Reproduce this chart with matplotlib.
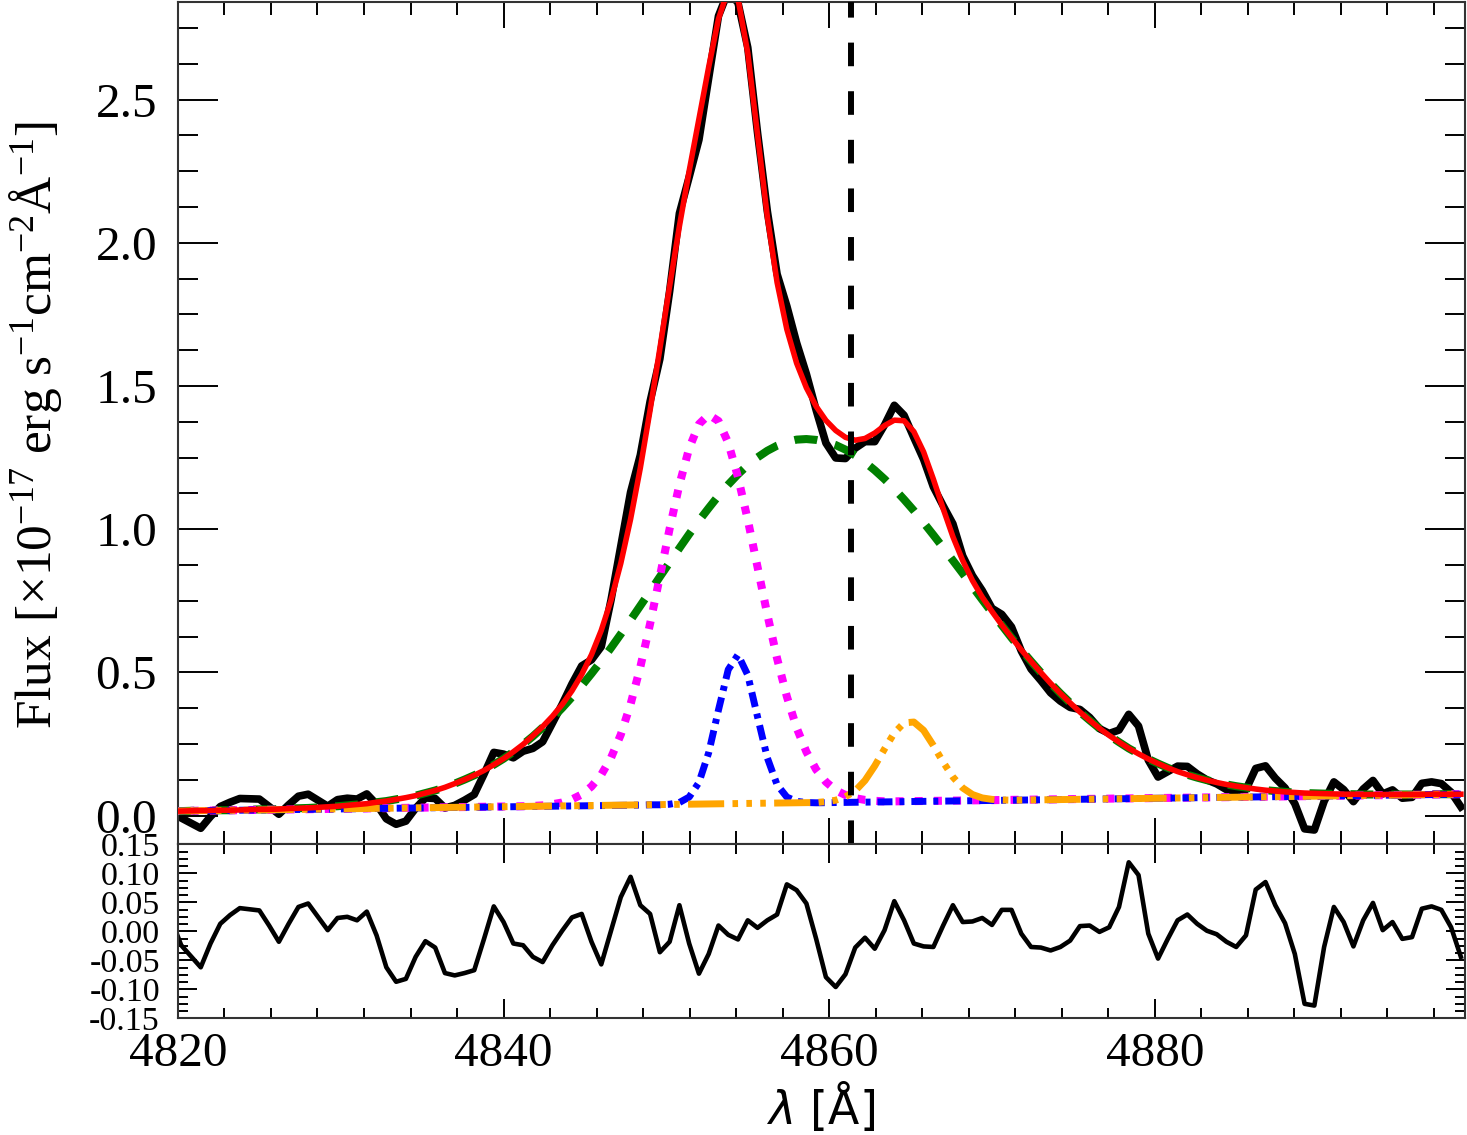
import matplotlib
matplotlib.use("Agg")
import matplotlib.pyplot as plt
from matplotlib.ticker import MultipleLocator, AutoMinorLocator, FormatStrFormatter

plt.rcParams['font.family'] = ['Liberation Serif', 'DejaVu Serif']
plt.rcParams['mathtext.fontset'] = 'custom'
plt.rcParams['mathtext.rm'] = 'Liberation Serif'
plt.rcParams['mathtext.it'] = 'Liberation Serif:italic'
plt.rcParams['axes.unicode_minus'] = False
plt.rcParams['lines.scale_dashes'] = False

# wavelength grid of the spectrum [A]
wave = [4819.6, 4820.2, 4820.8, 4821.4, 4822.0,
        4822.6, 4823.2, 4823.8, 4824.4, 4825.0,
        4825.6, 4826.2, 4826.8, 4827.4, 4828.0,
        4828.6, 4829.2, 4829.8, 4830.4, 4831.0,
        4831.6, 4832.2, 4832.8, 4833.4, 4834.0,
        4834.6, 4835.2, 4835.8, 4836.4, 4837.0,
        4837.6, 4838.2, 4838.8, 4839.4, 4840.0,
        4840.6, 4841.2, 4841.8, 4842.4, 4843.0,
        4843.6, 4844.2, 4844.8, 4845.4, 4846.0,
        4846.6, 4847.2, 4847.8, 4848.4, 4849.0,
        4849.6, 4850.2, 4850.8, 4851.4, 4852.0,
        4852.6, 4853.2, 4853.8, 4854.4, 4855.0,
        4855.6, 4856.2, 4856.8, 4857.4, 4858.0,
        4858.6, 4859.2, 4859.8, 4860.4, 4861.0,
        4861.6, 4862.2, 4862.8, 4863.4, 4864.0,
        4864.6, 4865.2, 4865.8, 4866.4, 4867.0,
        4867.6, 4868.2, 4868.8, 4869.4, 4870.0,
        4870.6, 4871.2, 4871.8, 4872.4, 4873.0,
        4873.6, 4874.2, 4874.8, 4875.4, 4876.0,
        4876.6, 4877.2, 4877.8, 4878.4, 4879.0,
        4879.6, 4880.2, 4880.8, 4881.4, 4882.0,
        4882.6, 4883.2, 4883.8, 4884.4, 4885.0,
        4885.6, 4886.2, 4886.8, 4887.4, 4888.0,
        4888.6, 4889.2, 4889.8, 4890.4, 4891.0,
        4891.6, 4892.2, 4892.8, 4893.4, 4894.0,
        4894.6, 4895.2, 4895.8, 4896.4, 4897.0,
        4897.6, 4898.2, 4898.8]

# observed flux
flux = [0.036, -0.008, -0.026, -0.044, -0.003,
        0.032, 0.047, 0.060, 0.059, 0.058,
        0.032, 0.005, 0.038, 0.068, 0.075,
        0.054, 0.033, 0.056, 0.061, 0.058,
        0.076, 0.040, -0.011, -0.030, -0.019,
        0.026, 0.062, 0.060, 0.027, 0.036,
        0.054, 0.074, 0.145, 0.221, 0.215,
        0.202, 0.225, 0.235, 0.258, 0.323,
        0.389, 0.460, 0.523, 0.544, 0.590,
        0.753, 0.940, 1.129, 1.259, 1.446,
        1.595, 1.831, 2.103, 2.230, 2.360,
        2.575, 2.792, 2.879, 2.838, 2.682,
        2.384, 2.111, 1.891, 1.779, 1.651,
        1.542, 1.416, 1.301, 1.249, 1.247,
        1.283, 1.306, 1.306, 1.364, 1.433,
        1.398, 1.320, 1.244, 1.148, 1.082,
        1.019, 0.907, 0.838, 0.786, 0.724,
        0.703, 0.659, 0.575, 0.512, 0.472,
        0.429, 0.400, 0.378, 0.371, 0.343,
        0.304, 0.287, 0.299, 0.354, 0.313,
        0.194, 0.135, 0.154, 0.173, 0.172,
        0.146, 0.125, 0.111, 0.091, 0.076,
        0.091, 0.165, 0.174, 0.131, 0.097,
        0.042, -0.046, -0.050, 0.050, 0.118,
        0.091, 0.049, 0.093, 0.123, 0.076,
        0.090, 0.061, 0.064, 0.113, 0.118,
        0.112, 0.082, 0.031]

# total model
fit = [0.016, 0.016, 0.017, 0.018, 0.018,
       0.019, 0.019, 0.020, 0.021, 0.022,
       0.022, 0.023, 0.025, 0.026, 0.027,
       0.029, 0.031, 0.033, 0.036, 0.039,
       0.042, 0.047, 0.051, 0.057, 0.063,
       0.070, 0.079, 0.088, 0.099, 0.112,
       0.126, 0.141, 0.158, 0.178, 0.199,
       0.223, 0.249, 0.279, 0.311, 0.347,
       0.388, 0.436, 0.493, 0.562, 0.647,
       0.752, 0.881, 1.035, 1.214, 1.416,
       1.631, 1.849, 2.058, 2.251, 2.433,
       2.614, 2.782, 2.885, 2.852, 2.663,
       2.378, 2.092, 1.862, 1.698, 1.580,
       1.494, 1.429, 1.380, 1.345, 1.321,
       1.311, 1.317, 1.336, 1.362, 1.381,
       1.379, 1.341, 1.270, 1.175, 1.072,
       0.974, 0.891, 0.821, 0.763, 0.713,
       0.666, 0.622, 0.579, 0.539, 0.500,
       0.462, 0.427, 0.394, 0.362, 0.333,
       0.305, 0.280, 0.257, 0.235, 0.216,
       0.198, 0.182, 0.167, 0.154, 0.143,
       0.133, 0.124, 0.116, 0.109, 0.103,
       0.098, 0.093, 0.089, 0.086, 0.083,
       0.081, 0.079, 0.078, 0.077, 0.076,
       0.075, 0.075, 0.074, 0.074, 0.074,
       0.074, 0.074, 0.074, 0.074, 0.075,
       0.075, 0.075, 0.075]

# broad component (green)
broad = [0.016, 0.016, 0.017, 0.018, 0.018,
         0.019, 0.019, 0.020, 0.021, 0.022,
         0.022, 0.023, 0.025, 0.026, 0.027,
         0.029, 0.031, 0.033, 0.036, 0.039,
         0.042, 0.047, 0.051, 0.057, 0.063,
         0.070, 0.079, 0.088, 0.099, 0.112,
         0.126, 0.141, 0.158, 0.178, 0.199,
         0.223, 0.249, 0.277, 0.308, 0.341,
         0.376, 0.414, 0.454, 0.496, 0.540,
         0.586, 0.634, 0.683, 0.733, 0.783,
         0.834, 0.884, 0.934, 0.983, 1.030,
         1.074, 1.117, 1.156, 1.192, 1.224,
         1.251, 1.274, 1.292, 1.305, 1.313,
         1.315, 1.312, 1.305, 1.294, 1.278,
         1.258, 1.234, 1.206, 1.175, 1.141,
         1.104, 1.065, 1.023, 0.980, 0.936,
         0.891, 0.846, 0.800, 0.754, 0.709,
         0.665, 0.621, 0.579, 0.539, 0.500,
         0.462, 0.427, 0.394, 0.362, 0.333,
         0.305, 0.280, 0.257, 0.235, 0.216,
         0.198, 0.182, 0.167, 0.154, 0.143,
         0.133, 0.124, 0.116, 0.109, 0.103,
         0.098, 0.093, 0.089, 0.086, 0.083,
         0.081, 0.079, 0.078, 0.077, 0.076,
         0.075, 0.075, 0.074, 0.074, 0.074,
         0.074, 0.074, 0.074, 0.074, 0.075,
         0.075, 0.075, 0.075]

# narrow components on their own wavelength ranges
magenta_wave = [4819.6] + wave[36:75] + [4898.8]
magenta_flux = [0.016,
                0.033, 0.034, 0.036, 0.040, 0.046, 0.057, 0.074, 0.102,
                0.143, 0.202, 0.283, 0.389, 0.519, 0.670, 0.835, 1.002,
                1.156, 1.283, 1.367, 1.400, 1.378, 1.302, 1.182, 1.033,
                0.868, 0.703, 0.549, 0.416, 0.307, 0.223, 0.161, 0.118,
                0.089, 0.072, 0.061, 0.055, 0.052, 0.050, 0.050,
                0.075]

blue_wave = [4819.6] + wave[48:67] + [4898.8]
blue_flux = [0.016,
             0.037, 0.038, 0.038, 0.040, 0.046, 0.065, 0.116, 0.220,
             0.369, 0.510, 0.562, 0.491, 0.345, 0.202, 0.108, 0.065,
             0.050, 0.046, 0.045,
             0.075]

orange_wave = [4819.6] + wave[66:87] + [4898.8]
orange_flux = [0.016,
               0.046, 0.049, 0.054, 0.066, 0.087, 0.123, 0.174, 0.233,
               0.289, 0.324, 0.327, 0.298, 0.245, 0.187, 0.135, 0.097,
               0.074, 0.062, 0.057, 0.055, 0.054,
               0.075]

# residuals (data - model)
resid = [0.020, -0.024, -0.043, -0.062, -0.021,
         0.013, 0.028, 0.040, 0.038, 0.036,
         0.010, -0.018, 0.013, 0.042, 0.048,
         0.025, 0.002, 0.023, 0.025, 0.019,
         0.034, -0.007, -0.062, -0.087, -0.082,
         -0.044, -0.017, -0.028, -0.072, -0.076,
         -0.072, -0.067, -0.013, 0.043, 0.016,
         -0.021, -0.024, -0.044, -0.053, -0.024,
         0.001, 0.024, 0.030, -0.018, -0.057,
         0.001, 0.059, 0.094, 0.045, 0.030,
         -0.036, -0.018, 0.045, -0.021, -0.073,
         -0.039, 0.010, -0.006, -0.014, 0.019,
         0.006, 0.019, 0.029, 0.081, 0.071,
         0.048, -0.013, -0.079, -0.096, -0.074,
         -0.028, -0.011, -0.030, 0.002, 0.052,
         0.019, -0.021, -0.026, -0.027, 0.010,
         0.045, 0.016, 0.017, 0.023, 0.011,
         0.037, 0.037, -0.004, -0.027, -0.028,
         -0.033, -0.027, -0.016, 0.009, 0.010,
         -0.001, 0.007, 0.042, 0.119, 0.097,
         -0.004, -0.047, -0.013, 0.019, 0.029,
         0.013, 0.001, -0.005, -0.018, -0.027,
         -0.007, 0.072, 0.085, 0.045, 0.014,
         -0.039, -0.125, -0.128, -0.027, 0.042,
         0.016, -0.026, 0.019, 0.049, 0.002,
         0.016, -0.013, -0.010, 0.039, 0.043,
         0.037, 0.007, -0.044]

hbeta = 4861.33

fig = plt.figure(figsize=(14.67, 11.35), dpi=100)
ax1 = fig.add_axes([0.1213, 0.2561, 0.8773, 0.7424])
ax2 = fig.add_axes([0.1213, 0.1028, 0.8773, 0.1533])

ax1.plot(wave, flux, color='black', lw=5.5, zorder=2)
ax1.plot(wave, broad, color='#008000', lw=5.8, ls=(0, (16.5, 13)), zorder=3)
ax1.plot(magenta_wave, magenta_flux, color='#FF00FF', lw=5.8, ls=(0, (5.8, 8)), zorder=4)
ax1.plot(blue_wave, blue_flux, color='#0000FF', lw=5.0, ls=(0, (10.8, 5, 3.6, 5)), zorder=5)
ax1.plot(orange_wave, orange_flux, color='#FFA500', lw=5.0,
         ls=(0, (26, 6, 4, 6, 4, 6, 4, 6)), zorder=6)
ax1.plot(wave, fit, color='#FF0000', lw=4.0, zorder=7)
ax1.axvline(hbeta, color='black', lw=4.3, ls=(0, (17, 18)), zorder=8)

ax2.plot(wave, resid, color='black', lw=3.3)

ax1.set_xlim(4820, 4899.05)
ax1.set_ylim(-0.1, 2.842)
ax2.set_xlim(4820, 4899.05)
ax2.set_ylim(-0.15, 0.15)

for ax in (ax1, ax2):
    ax.xaxis.set_major_locator(MultipleLocator(20))
    ax.xaxis.set_minor_locator(AutoMinorLocator(7))
    for s in ax.spines.values():
        s.set_linewidth(1.5)
        s.set_color('#333333')

ax1.yaxis.set_major_locator(MultipleLocator(0.5))
ax1.yaxis.set_minor_locator(AutoMinorLocator(4))
ax1.yaxis.set_major_formatter(FormatStrFormatter('%.1f'))
ax2.yaxis.set_major_locator(MultipleLocator(0.05))
ax2.yaxis.set_minor_locator(AutoMinorLocator(4))
ax2.yaxis.set_major_formatter(FormatStrFormatter('%.2f'))
ax2.xaxis.set_major_formatter(FormatStrFormatter('%d'))

ax1.tick_params(axis='x', which='major', direction='in', length=18.7, width=1.4,
                top=True, bottom=True, labelbottom=False)
ax1.tick_params(axis='x', which='minor', direction='in', length=9.4, width=1.4,
                top=True, bottom=True)
ax1.tick_params(axis='y', which='major', direction='in', length=28.8, width=1.4,
                left=True, right=True, labelsize=35.5, pad=15)
ax1.tick_params(axis='y', which='minor', direction='in', length=14.4, width=1.4,
                left=True, right=True)

ax2.tick_params(axis='both', which='major', direction='in', length=13.7, width=1.4,
                top=True, bottom=True, left=True, right=True)
ax2.tick_params(axis='both', which='minor', direction='in', length=7.2, width=1.4,
                top=True, bottom=True, left=True, right=True)
ax2.tick_params(axis='x', which='major', labelsize=35.5, pad=10)
ax2.tick_params(axis='y', which='major', labelsize=24.5, pad=13)

fig.text(0.024, 0.626, 'Flux [×10$^{-17}$ erg s$^{-1}$cm$^{-2}$Å$^{-1}$]',
         rotation=90, ha='center', va='center', fontsize=37)
fig.text(0.559, 0.025, r'$\lambda$ [Å]', ha='center', va='center', fontsize=33,
         family='DejaVu Sans', math_fontfamily='dejavusans')

fig.savefig('out.png', dpi=100)
